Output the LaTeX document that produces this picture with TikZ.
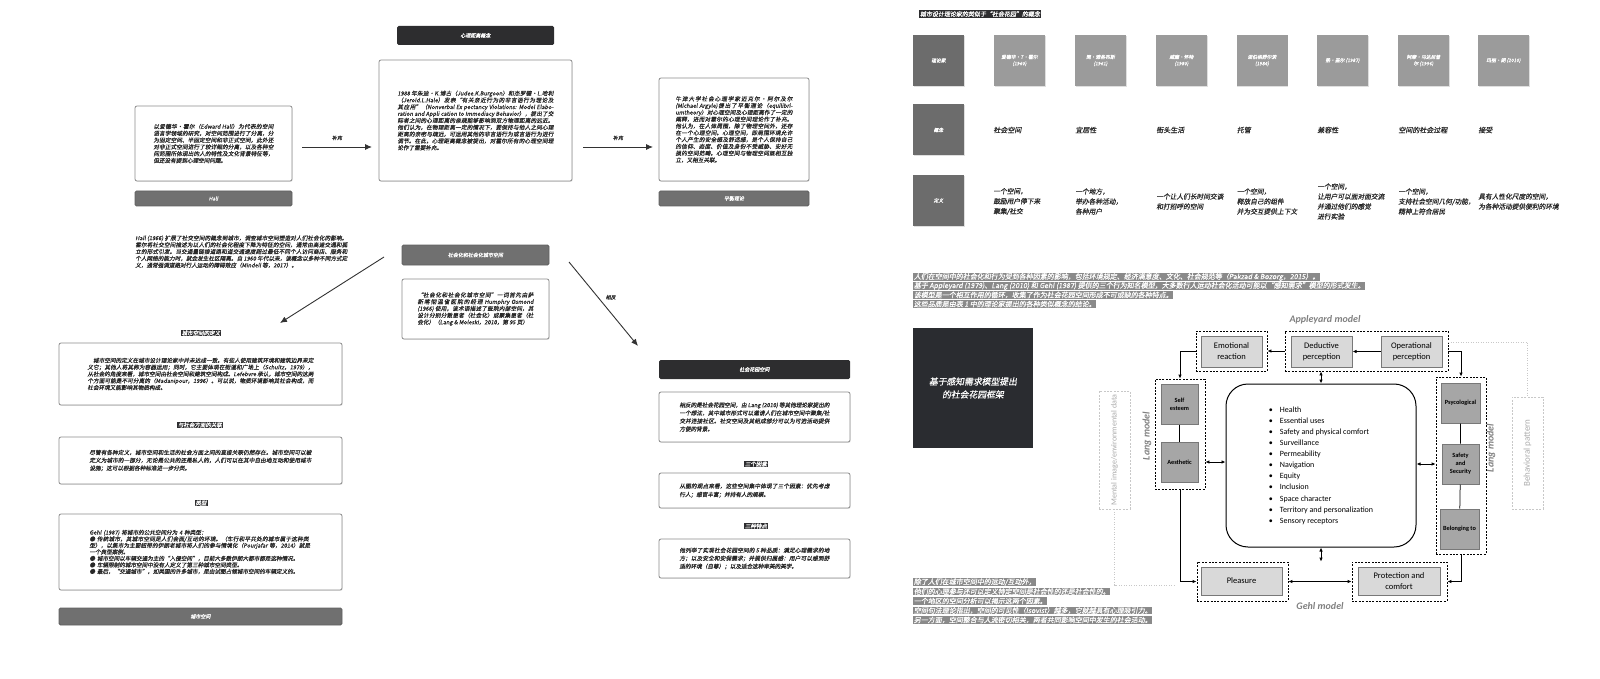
\documentclass[tikz,border=0pt]{standalone}
\usepackage{fontspec}
\usepackage{tikz}
\usetikzlibrary{arrows.meta,shadows}
\setmainfont{Noto Sans CJK SC}
\newfontfamily\zh{Noto Sans CJK SC}[FakeSlant=0.18,FakeBold=0.4]
\newfontfamily\carl{Carlito}
\XeTeXlinebreaklocale "zh"
\XeTeXlinebreakskip=0pt plus 1pt

\definecolor{barDark}{RGB}{45,45,47}
\definecolor{barGray}{RGB}{112,112,112}
\definecolor{boxline}{RGB}{140,140,140}
\definecolor{txtGray}{RGB}{40,40,40}
\definecolor{arrowGray}{RGB}{50,50,50}
\definecolor{sqDark}{RGB}{108,108,108}
\definecolor{sqLight}{RGB}{155,155,155}
\definecolor{paraGray}{RGB}{138,138,138}
\definecolor{fwTitle}{RGB}{42,44,48}
\definecolor{fwLight}{RGB}{217,217,217}
\definecolor{fwDark}{RGB}{166,166,166}
\definecolor{fwEdge}{RGB}{120,120,120}
\definecolor{modelGray}{RGB}{128,128,128}
\definecolor{faint}{RGB}{200,200,200}

\tikzset{every picture/.style={line width=0.75pt}}
\tikzset{
	zhtxt/.style={font=\zh\fontsize{5.6pt}{6.8pt}\selectfont, text=txtGray, align=justify},
	txtbox/.style={draw=boxline, fill=white, rounded corners=2pt, line width=0.8pt, drop shadow={shadow xshift=0.7pt, shadow yshift=-0.9pt, opacity=0.2}, zhtxt},
	darkbar/.style={fill=barDark, rounded corners=1.5pt, text=white, font=\zh\fontsize{5pt}{6pt}\selectfont},
	graybar/.style={fill=barGray, draw=barGray!85!black, rounded corners=1.5pt, text=white, font=\zh\fontsize{5pt}{6pt}\selectfont},
	darklbl/.style={fill=barDark, text=white, inner xsep=1pt, inner ysep=0.8pt, font=\zh\fontsize{5.5pt}{6pt}\selectfont},
	lbl/.style={font=\zh\fontsize{5pt}{6pt}\selectfont, text=txtGray},
	bigarrow/.style={-{Latex[length=7pt,width=6pt]}, line width=0.9pt, draw=arrowGray},
	sqdark/.style={fill=sqDark, minimum size=51pt, inner sep=1pt, text=white, align=center, font=\zh\fontsize{4.8pt}{6.5pt}\selectfont, drop shadow={shadow xshift=0.6pt, shadow yshift=-0.8pt, opacity=0.25}},
	sqlight/.style={sqdark, fill=sqLight},
	concept/.style={anchor=west, inner sep=0pt, font=\zh\fontsize{7pt}{9pt}\selectfont, text=txtGray},
	defn/.style={anchor=west, inner sep=0pt, align=left, font=\zh\fontsize{6.7pt}{10pt}\selectfont, text=txtGray},
	hlline/.style={anchor=west, fill=paraGray, text=white, inner xsep=0.5pt, inner ysep=0.5pt, font=\zh\fontsize{7pt}{8pt}\selectfont},
	grp/.style={draw, dash pattern=on 2pt off 1.4pt, line width=0.8pt, inner sep=0pt},
	fbox/.style={fill=fwLight, draw=fwEdge, line width=1pt, align=center, inner sep=1pt, font=\carl\fontsize{8.5pt}{11pt}\selectfont},
	fdark/.style={fill=fwDark, draw=fwEdge, line width=1pt, align=center, inner sep=1pt, font=\carl\bfseries\fontsize{6.3pt}{8pt}\selectfont},
	mlabel/.style={text=modelGray, font=\carl\bfseries\itshape\fontsize{10pt}{12pt}\selectfont},
	farrow/.style={-{Latex[length=4pt,width=3.5pt]}, line width=0.9pt},
	fboth/.style={{Latex[length=4pt,width=3.5pt]}-{Latex[length=4pt,width=3.5pt]}, line width=0.9pt},
	faintbox/.style={draw=faint, dash pattern=on 2pt off 1.4pt, line width=0.8pt},
	faintlbl/.style={text=faint!85!black, font=\carl\fontsize{8pt}{10pt}\selectfont},
	faintline/.style={draw=faint, dash pattern=on 1pt off 1.5pt, line width=0.6pt},
}

\begin{document}
\begin{tikzpicture}[x=1pt,y=1pt,yscale=-1,xscale=1]
	\useasboundingbox (0,0) rectangle (1600,679);
	
	%Shape: Rectangle (Hall)
	\node[txtbox, minimum width=157pt, minimum height=75pt, text width=120pt] (hallbox) at (213.5,143.5) {以爱德华·霍尔（Edward Hall）为代表的空间语言学领域的研究，对空间范围进行了分离，分为固定空间、半固定空间和非正式空间，此外还对非正式空间进行了较详细的分离，以及各种空间范围所体现出的人的特性及文化背景特征等，但还没有提到心理空间问题。};
	\node[graybar, minimum width=157pt, minimum height=15pt] (hallbar) at (213.5,198.5) {Hall};
	
	%Straight Lines
	\coordinate (sup1a) at (302,147);
	\coordinate (sup1b) at (372,147);
	\draw[bigarrow] (sup1a) -- node[lbl, above=3pt] (sup1lbl) {补充} (sup1b);
	
	%Shape: Rectangle (distance)
	\node[darkbar, minimum width=157pt, minimum height=19pt] (distbar) at (475.5,35.5) {心理距离概念};
	\node[txtbox, minimum width=193pt, minimum height=121pt, text width=156pt] (distbox) at (475.5,120.5) {1988 年朱迪·K.博古（Judee.K.Burgoon）和杰罗德·L.哈利（Jerold.L.Hale）发表“有关亲近行为的非言语行为理论及其应用”（Nonverbal Ex pectancy Violations: Model Elaboration and Appli cation to Immediacy Behavior），提出了交际者之间的心理距离的亲疏能够影响到双方物理距离的远近。他们认为，在物理距离一定的情况下，要保持与他人之间心理距离的亲密与疏远，可运用其他的非言语行为或言语行为进行调节。在此，心理距离概念被提出，对霍尔所有的心理空间理论作了重要补充。};
	
	%Straight Lines
	\coordinate (sup2a) at (583,147);
	\coordinate (sup2b) at (653,147);
	\draw[bigarrow] (sup2a) -- node[lbl, above=3pt] (sup2lbl) {补充} (sup2b);
	
	%Shape: Rectangle (balance)
	\node[txtbox, minimum width=150pt, minimum height=103pt, text width=117pt] (balbox) at (734,129.5) {牛津大学社会心理学家迈克尔·阿尔及尔(Michael Argyle)提出了平衡理论（equilibriumtheory）对心理空间及心理距离作了一定的阐释，进而对霍尔的心理空间理论作了补充。他认为，在人体周围，除了物理空间外，还存在一个心理空间。心理空间，即周围环境允许个人产生的安全感及舒适感，是个人保持自己的信仰、态度、价值及身份不受威胁、安好无损的空间范畴。心理空间与物理空间既相互独立，又相互关联。};
	\node[graybar, minimum width=150pt, minimum height=15pt] (balbar) at (734,198.5) {平衡理论};
	
	% Text Node
	\node[zhtxt, text width=212pt, anchor=north west, inner sep=0pt] (hallpara) at (135,235) {Hall (1966) 扩展了社交空间的概念到城市，调查城市空间塑造对人们社会化的影响。霍尔将社交空间描述为以人们的社会化程度下降为特征的空间，通常由高速交通和孤立的形式引发。当交通量链接道路和道交通速度超过最低不同个人访问商店、服务和个人网络的能力时，就会发生社区隔离。自 1960 年代以来，该概念以多种不同方式定义，通常强调道路对行人运动的障碍效应（Mindell 等，2017）。};
	
	%Shape: Rectangle (socialised)
	\node[graybar, minimum width=147pt, minimum height=20pt] (socbar) at (475.5,255) {社会化和社会化城市空间};
	\node[txtbox, minimum width=147pt, minimum height=60pt, text width=116pt] (socbox) at (475.5,309) {“社会化和社会化城市空间”一词首先由萨斯喀彻温省医院的经理 Humphry Osmond (1966) 使用，该术语描述了医院内部空间，其设计分别分散患者（社会化）或聚集患者（社会化）（Lang \& Moleski，2010，第 95 页）};
	
	%Straight Lines
	\coordinate (socL) at (384,257);
	\coordinate (defArr) at (280,323);
	\draw[bigarrow] (socL) -- (defArr);
	\coordinate (socR) at (569,262);
	\coordinate (gardArr) at (638,346);
	\draw[bigarrow] (socR) -- node[lbl, pos=0.42, right=4pt] (opplbl) {相反} (gardArr);
	
	%Shape: Rectangle (urban space column)
	\node[darklbl] (deflbl) at (201,333) {城市空间的定义};
	\node[txtbox, minimum width=283pt, minimum height=62pt, text width=226pt] (defbox) at (200.5,374) {\hspace*{1em}城市空间的定义在城市设计理论家中并未达成一致。有些人使用建筑环境和建筑边界来定义它；其他人将其称为容器运用；同时，它主要体现在街道和广场上（Schultz，1979），从社会的角度来看，城市空间由社会空间和建筑空间构成。Lefebvre 承认，城市空间的这两个方面可能是不可分离的（Madanipour，1996）。可以说，物质环境影响其社会构成，而社会环境又能影响其物质构成。};
	\node[darklbl] (rellbl) at (200,425) {与社会方面的关联};
	\node[txtbox, minimum width=283pt, minimum height=47pt, text width=222pt, font=\zh\fontsize{5.6pt}{7.8pt}\selectfont] (relbox) at (200.5,460.5) {尽管有各种定义，城市空间和生活的社会方面之间的直接关联仍然存在。城市空间可以被定义为城市的一部分，无论是公共的还是私人的，人们可以在其中自由地互动和使用城市设施；这可以根据各种标准进一步分类。};
	\node[darklbl] (typelbl) at (201,503) {类型};
	\node[txtbox, minimum width=283pt, minimum height=76pt, text width=222pt, align=left, font=\zh\fontsize{5.6pt}{6.5pt}\selectfont] (typebox) at (200.5,552) {Gehl (1987) 将城市的公共空间分为 4 种类型：\\● 传统城市，其城市空间是人们会面/互动的环境。（车行和平共处的城市属于这种类型），以集市为主要纽带的伊朗老城市将人们的参与情境化（Pourjafar 等，2014）就是一个典型案例。\\● 城市空间以车辆交通为主的“入侵空间”，目前大多数伊朗大都市都是这种情况。\\● 车辆限制的城市空间中没有人定义了第三种城市空间类型。\\● 最后，“交通城市”，如美国的许多城市，是由试图占领城市空间的车辆定义的。};
	\node[graybar, minimum width=283pt, minimum height=17pt] (citybar) at (200.5,616.5) {城市空间};
	
	%Shape: Rectangle (social garden column)
	\node[darkbar, minimum width=191pt, minimum height=19pt] (gardenbar) at (754.5,369.5) {社会花园空间};
	\node[txtbox, minimum width=191pt, minimum height=50pt, text width=150pt, font=\zh\fontsize{5.6pt}{8pt}\selectfont] (gardenbox) at (754.5,417) {相反的是社会花园空间，由 Lang (2010) 等其他理论家提出的一个想法，其中城市形式可以邀请人们在城市空间中聚集/社交并连接社区。社交空间及其组成部分可以为可选活动提供方便的背景。};
	\node[darklbl] (factorlbl) at (756,464) {三个因素};
	\node[txtbox, minimum width=191pt, minimum height=35pt, text width=150pt, font=\zh\fontsize{5.6pt}{8.5pt}\selectfont] (factorbox) at (754.5,490.5) {从图的观点来看，这些空间集中体现了三个因素：优先考虑行人；感官丰富；并持有人的规模。};
	\node[darklbl] (traitlbl) at (756,526) {三种特点};
	\node[txtbox, minimum width=191pt, minimum height=39pt, text width=150pt, font=\zh\fontsize{5.6pt}{8pt}\selectfont] (traitbox) at (754.5,558.5) {他列举了实现社会花园空间的 5 种品质：满足心理需求的地方；以及安全和安保需求；并提供归属感：用户可以感到舒适的环境（自尊）；以及适合这种审美的美学。};
	
	% Text Node (table)
	\node[darklbl, font=\zh\fontsize{6pt}{7pt}\selectfont] (tabtitle) at (980,14) {城市设计理论家的类似于“社会花园”的概念};
	
	%Shape: Square (table heads)
	\node[sqdark] (hTheorist) at (938.5,60.5) {理论家};
	\node[sqdark] (hConcept) at (938.5,130) {概念};
	\node[sqdark] (hDefine) at (938.5,200.5) {定义};
	\node[sqlight] (hHall) at (1019.5,60.5) {爱德华·T·霍尔\\(1960)};
	\node[sqlight] (hJacobs) at (1100.5,60.5) {简·雅各布斯\\(1961)};
	\node[sqlight] (hWhyte) at (1181.5,60.5) {威廉·怀特\\(1980)};
	\node[sqlight] (hNorberg) at (1262,60.5) {诺伯格舒尔茨\\(1984)};
	\node[sqlight] (hGehl) at (1342.5,60.5) {扬·盖尔 (1987)};
	\node[sqlight] (hMadani) at (1423.5,60.5) {阿摩·马达尼普\\尔 (1996)};
	\node[sqlight] (hLang) at (1503.5,60.5) {玛丽·朗 (2010)};
	
	% Text Node (concepts)
	\node[concept] (cHall) at (993,130) {社会空间};
	\node[concept] (cJacobs) at (1075,130) {宜居性};
	\node[concept] (cWhyte) at (1156,130) {街头生活};
	\node[concept] (cNorberg) at (1236.5,130) {托管};
	\node[concept] (cGehl) at (1317,130) {兼容性};
	\node[concept] (cMadani) at (1398,130) {空间的社会过程};
	\node[concept] (cLang) at (1478,130) {接受};
	
	% Text Node (definitions)
	\node[defn] (dHall) at (993,201.5) {一个空间，\\鼓励用户停下来\\聚集/社交};
	\node[defn] (dJacobs) at (1075,201.5) {一个地方，\\举办各种活动，\\各种用户};
	\node[defn] (dWhyte) at (1156,201.5) {一个让人们长时间交谈\\和打招呼的空间};
	\node[defn] (dNorberg) at (1236.5,201.5) {一个空间，\\释放自己的组件\\并为交互提供上下文};
	\node[defn] (dGehl) at (1317,201.5) {一个空间，\\让用户可以面对面交流\\并通过他们的感觉\\进行实验};
	\node[defn] (dMadani) at (1398,201.5) {一个空间，\\支持社会空间几何/功能，\\精神上符合居民};
	\node[defn] (dLang) at (1478,201.5) {具有人性化尺度的空间，\\为各种活动提供便利的环境};
	
	% Text Node (highlighted paragraph)
	\node[hlline] (pa1) at (913,277) {人们在空间中的社会化和行为受到各种因素的影响，包括环境规定、经济满意度、文化、社会规范等（Pakzad \& Bozorg，2015）。};
	\node[hlline] (pa2) at (913,286) {基于 Appleyard (1979)、Lang (2010) 和 Gehl (1987) 提供的三个行为知名模型，大多数行人运动社会化活动可能以“感知需求”模型的形式发生。};
	\node[hlline] (pa3) at (913,295) {该模型是一个相互作用的循环，收集了作为社会花园空间形成不可或缺的各种特点。};
	\node[hlline] (pa4) at (913,304) {这些品质是由表 1 中的理论家提出的各种类似概念的结论。};
	
	%Shape: Square (framework title)
	\node[fill=fwTitle, minimum width=120pt, minimum height=120pt, text=white, align=center, font=\zh\fontsize{8.8pt}{13pt}\selectfont] (fwtitle) at (973,388) {基于感知需求模型提出\\的社会花园框架};
	
	% Text Node (highlighted paragraph)
	\node[hlline] (pb1) at (913,582) {除了人们在城市空间中的运动/互动外，};
	\node[hlline] (pb2) at (913,591.5) {他们的心理参与还可以定义特定空间是社会性的还是社会性的。};
	\node[hlline] (pb3) at (913,601) {一个地区的空间分析可以揭示这两个因素。};
	\node[hlline] (pb4) at (913,610.5) {空间句法理论指出，空间的可见性（Isovist）越多，它就越具有心理吸引力。};
	\node[hlline] (pb5) at (913,620) {另一方面，空间整合与人流密切相关，两者共同影响空间中发生的社会活动。};
	
	%Shape: Framework (Appleyard model)
	\node[mlabel] (appleyard) at (1325,320) {Appleyard model};
	\node[grp, minimum width=71pt, minimum height=40pt] (grpEmo) at (1231.5,351) {};
	\node[fbox, minimum width=61pt, minimum height=31pt] (emo) at (1231.5,351.5) {Emotional\\reaction};
	\node[grp, minimum width=163pt, minimum height=40pt] (grpDed) at (1366.5,351) {};
	\node[fbox, minimum width=61pt, minimum height=31pt] (ded) at (1321.5,351.5) {Deductive\\perception};
	\node[fbox, minimum width=61pt, minimum height=31pt] (oper) at (1411.5,351.5) {Operational\\perception};
	
	%Shape: Framework (Lang model)
	\node[grp, minimum width=50pt, minimum height=110pt] (grpLangL) at (1180,434) {};
	\node[fdark, minimum width=37pt, minimum height=40pt] (selfest) at (1179.5,404) {Self\\esteem};
	\node[fdark, minimum width=37pt, minimum height=40pt] (aesth) at (1179.5,462) {Aesthetic};
	\node[mlabel, rotate=90] (langL) at (1147,436) {Lang model};
	\node[grp, minimum width=50pt, minimum height=177pt] (grpLangR) at (1461,465.5) {};
	\node[fdark, minimum width=39pt, minimum height=40pt] (psych) at (1460.5,403) {Psycological};
	\node[fdark, minimum width=37pt, minimum height=40pt] (safety) at (1460.5,464) {Safety\\and\\Security};
	\node[fdark, minimum width=39pt, minimum height=40pt] (belong) at (1459.5,529) {Belonging to};
	\node[mlabel, rotate=90] (langR) at (1491,448) {Lang model};
	
	%Shape: Framework (core)
	\node[draw, rounded corners=22pt, line width=1pt, minimum width=190pt, minimum height=163pt, font=\carl\fontsize{8pt}{11.1pt}\selectfont] (core) at (1321,465.5) {\begin{tabular}{@{}l@{\hspace{7pt}}l@{}}
		•&Health\\ •&Essential uses\\ •&Safety and physical comfort\\ •&Surveillance\\ •&Permeability\\ •&Navigation\\ •&Equity\\ •&Inclusion\\ •&Space character\\ •&Territory and personalization\\ •&Sensory receptors
	\end{tabular}};
	
	%Shape: Framework (Gehl model)
	\node[grp, minimum width=91pt, minimum height=39pt] (grpPl) at (1242.5,581.5) {};
	\node[fbox, minimum width=81pt, minimum height=28pt] (pleasure) at (1241.5,581) {Pleasure};
	\node[grp, minimum width=95pt, minimum height=39pt] (grpPr) at (1399.5,581.5) {};
	\node[fbox, minimum width=82pt, minimum height=28pt] (protect) at (1399,581) {Protection and\\comfort};
	\node[mlabel] (gehl) at (1320,606) {Gehl model};
	
	%Shape: Framework (side notes)
	\node[faintbox, minimum width=31pt, minimum height=118pt] (mental) at (1114.5,450) {};
	\node[faintlbl, rotate=90] (mentaltxt) at (mental) {Mental image/environmental data};
	\node[faintbox, minimum width=31pt, minimum height=112pt] (behav) at (1527.5,453) {};
	\node[faintlbl, rotate=90, font=\carl\fontsize{9pt}{11pt}\selectfont] (behavtxt) at (behav) {Behavioral pattern};
	
	%Straight Lines (framework)
	\draw[farrow] (oper) -- (ded);
	\draw[farrow] (grpDed) -- (grpEmo);
	\draw[farrow] (grpEmo.west) -| (grpLangL.north);
	\draw[farrow] (grpDed.east) -| (grpLangR.north);
	\draw[fboth] (core.north) -- (core.north |- grpDed.south);
	\draw[fboth] (grpLangL.east |- aesth) -- (core.west |- aesth);
	\draw[fboth] (core.east |- safety) -- (grpLangR.west |- safety);
	\draw[fboth] (core.south) -- (core.south |- grpPl.north);
	\draw[fboth] (grpPl) -- (grpPr);
	\draw[farrow] (grpLangL.south) |- (grpPl.west);
	\draw[farrow] (grpLangR.south) |- (grpPr.east);
	\draw (selfest) -- (aesth);
	\draw (psych) -- (safety) -- (belong);
	\coordinate (mentalEnd) at (1176,585);
	\draw[faintline] (mental.south) |- (mentalEnd);
	\coordinate (dedTop) at (1448,342);
	\draw[faintline] (dedTop) -| (behav.north);
	
\end{tikzpicture}
\end{document}
